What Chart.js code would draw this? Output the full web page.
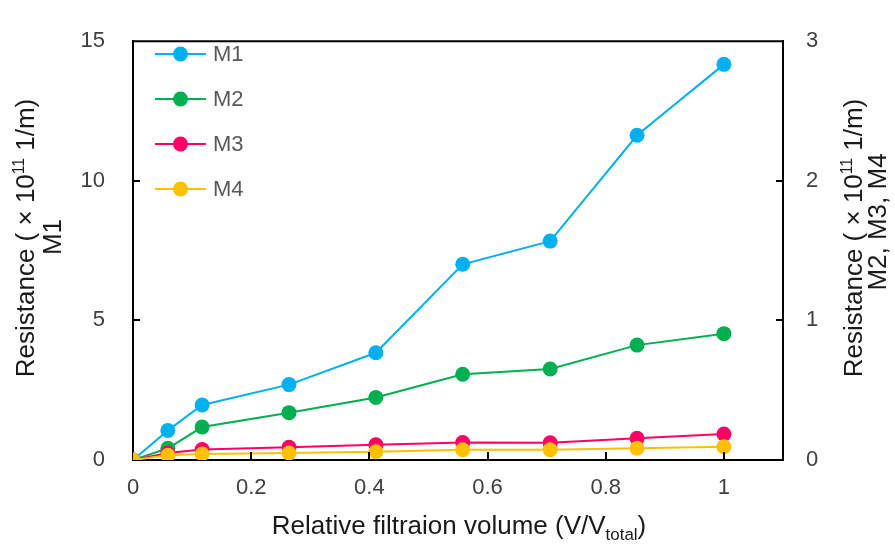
<!DOCTYPE html>
<html>
<head>
<meta charset="utf-8">
<script src="https://cdn.jsdelivr.net/npm/chart.js@4"></script>
<style>
  html, body { margin: 0; padding: 0; background: #ffffff; }
  #wrap { width: 895px; height: 545px; position: relative; }
</style>
</head>
<body>
<div id="wrap"><canvas id="c" width="895" height="545"></canvas></div>
<script>
// ---- data ----
const volumes = [0, 0.059, 0.117, 0.264, 0.411, 0.558, 0.706, 0.853, 1.0];
const seriesNames = ['M1', 'M2', 'M3', 'M4'];
const m1 = [0, 1.06, 1.97, 2.70, 3.84, 7.01, 7.84, 11.63, 14.17];
const m2 = [0, 0.084, 0.236, 0.339, 0.448, 0.614, 0.652, 0.823, 0.905];
const m3 = [0, 0.05, 0.075, 0.091, 0.109, 0.125, 0.123, 0.155, 0.186];
const m4 = [0, 0.034, 0.043, 0.050, 0.059, 0.073, 0.073, 0.084, 0.095];
const xTickValues = [0, 0.2, 0.4, 0.6, 0.8, 1];
const leftTickValues = [0, 5, 10, 15];
const rightTickValues = [0, 1, 2, 3];
const seriesColors = ['#00B0F0', '#00B050', '#FF0066', '#FFC000'];

const FONT = "'Liberation Sans', Arial, sans-serif";

function pts(vals) { return vals.map((v, i) => ({ x: volumes[i], y: v })); }

function mkDataset(idx, vals, axis, order) {
  return {
    label: seriesNames[idx],
    data: pts(vals),
    yAxisID: axis,
    borderColor: seriesColors[idx],
    backgroundColor: seriesColors[idx],
    pointBackgroundColor: seriesColors[idx],
    pointBorderColor: seriesColors[idx],
    pointBorderWidth: 0,
    pointRadius: 7.5,
    pointHoverRadius: 7.5,
    borderWidth: 2,
    tension: 0,
    order: order
  };
}

function drawRich(ctx, parts, x, y, baseSize, color) {
  let w = 0;
  parts.forEach(p => {
    ctx.font = (baseSize * (p.scale || 1)) + 'px ' + FONT;
    p.w = ctx.measureText(p.t).width;
    w += p.w;
  });
  let cx = x - w / 2;
  ctx.fillStyle = color;
  ctx.textAlign = 'left';
  ctx.textBaseline = 'alphabetic';
  parts.forEach(p => {
    ctx.font = (baseSize * (p.scale || 1)) + 'px ' + FONT;
    ctx.fillText(p.t, cx, y + (p.dy || 0) * baseSize);
    cx += p.w;
  });
}

const decorPlugin = {
  id: 'decor',
  afterDraw(chart) {
    const ctx = chart.ctx;
    const area = chart.chartArea;
    const xs = chart.scales.x, yl = chart.scales.y, yr = chart.scales.y1;
    ctx.save();
    // top frame line
    ctx.strokeStyle = '#000';
    ctx.lineWidth = 2;
    ctx.beginPath();
    ctx.moveTo(area.left - 1, area.top);
    ctx.lineTo(area.right + 1, area.top);
    ctx.stroke();
    // inward tick marks
    xTickValues.forEach(v => {
      if (v === 0) return;
      const px = Math.round(xs.getPixelForValue(v));
      ctx.beginPath();
      ctx.moveTo(px, area.bottom);
      ctx.lineTo(px, area.bottom - 8);
      ctx.stroke();
    });
    leftTickValues.forEach(v => {
      if (v === 0 || v === 15) return;
      const py = Math.round(yl.getPixelForValue(v));
      ctx.beginPath();
      ctx.moveTo(area.left, py);
      ctx.lineTo(area.left + 7, py);
      ctx.stroke();
    });
    rightTickValues.forEach(v => {
      if (v === 0 || v === 3) return;
      const py = Math.round(yr.getPixelForValue(v));
      ctx.beginPath();
      ctx.moveTo(area.right, py);
      ctx.lineTo(area.right - 7, py);
      ctx.stroke();
    });

    // axis titles
    const titleColor = '#1a1a1a';
    const TS = 26;
    const yTitle = () => [
      { t: 'Resistance ( × 10' },
      { t: '11', scale: 0.6, dy: -0.38 },
      { t: ' 1/m)' }
    ];
    ctx.save();
    ctx.translate(34, 238);
    ctx.rotate(-Math.PI / 2);
    drawRich(ctx, yTitle(), 0, 0, TS, titleColor);
    ctx.restore();
    ctx.save();
    ctx.translate(61, 237);
    ctx.rotate(-Math.PI / 2);
    drawRich(ctx, [{ t: 'M1' }], 0, 0, TS, titleColor);
    ctx.restore();
    ctx.save();
    ctx.translate(862, 238);
    ctx.rotate(-Math.PI / 2);
    drawRich(ctx, yTitle(), 0, 0, TS, titleColor);
    ctx.restore();
    ctx.save();
    ctx.translate(886, 222);
    ctx.rotate(-Math.PI / 2);
    drawRich(ctx, [{ t: 'M2, M3, M4' }], 0, 0, TS, titleColor);
    ctx.restore();
    drawRich(ctx, [
      { t: 'Relative filtraion volume (V/V' },
      { t: 'total', scale: 0.65, dy: 0.22 },
      { t: ')' }
    ], (area.left + area.right) / 2 + 1, 534, 26, titleColor);

    // legend
    chart.data.datasets.forEach((ds, i) => {
      const ly = 54 + i * 45;
      ctx.strokeStyle = ds.borderColor;
      ctx.lineWidth = 2;
      ctx.beginPath();
      ctx.moveTo(155, ly);
      ctx.lineTo(206, ly);
      ctx.stroke();
      ctx.fillStyle = ds.borderColor;
      ctx.beginPath();
      ctx.arc(180.5, ly, 7.5, 0, Math.PI * 2);
      ctx.fill();
      ctx.fillStyle = '#595959';
      ctx.font = '22px ' + FONT;
      ctx.textAlign = 'left';
      ctx.textBaseline = 'middle';
      ctx.fillText(ds.label, 213, ly + 1);
    });
    ctx.restore();
  }
};

const tickFont = { family: FONT, size: 22 };
const tickColor = '#404040';

new Chart(document.getElementById('c'), {
  type: 'line',
  data: {
    datasets: [
      mkDataset(0, m1, 'y', 3),
      mkDataset(1, m2, 'y1', 2),
      mkDataset(2, m3, 'y1', 1),
      mkDataset(3, m4, 'y1', 0)
    ]
  },
  options: {
    responsive: false,
    animation: false,
    devicePixelRatio: 1,
    layout: { padding: { top: 20, left: 0, right: 0, bottom: 0 } },
    plugins: {
      legend: { display: false },
      tooltip: { enabled: false },
      title: { display: false }
    },
    scales: {
      x: {
        type: 'linear',
        min: 0,
        max: 1.1,
        afterBuildTicks: s => { s.ticks = xTickValues.map(v => ({ value: v })); },
        afterFit: s => { s.height = 85; },
        ticks: {
          font: tickFont,
          color: tickColor,
          padding: 15,
          maxRotation: 0,
          autoSkip: false,
          callback: v => String(Math.round(v * 10) / 10)
        },
        grid: { display: false, drawTicks: false },
        border: { display: true, color: '#000', width: 2 }
      },
      y: {
        type: 'linear',
        position: 'left',
        min: 0,
        max: 15,
        afterBuildTicks: s => { s.ticks = leftTickValues.map(v => ({ value: v })); },
        afterFit: s => { s.width = 133; },
        ticks: { font: tickFont, color: tickColor, padding: 28 },
        grid: { display: false, drawTicks: false },
        border: { display: true, color: '#000', width: 2 }
      },
      y1: {
        type: 'linear',
        position: 'right',
        min: 0,
        max: 3,
        afterBuildTicks: s => { s.ticks = rightTickValues.map(v => ({ value: v })); },
        afterFit: s => { s.width = 112; },
        ticks: { font: tickFont, color: tickColor, padding: 23 },
        grid: { display: false, drawTicks: false },
        border: { display: true, color: '#000', width: 2 }
      }
    }
  },
  plugins: [decorPlugin]
});
</script>
</body>
</html>
